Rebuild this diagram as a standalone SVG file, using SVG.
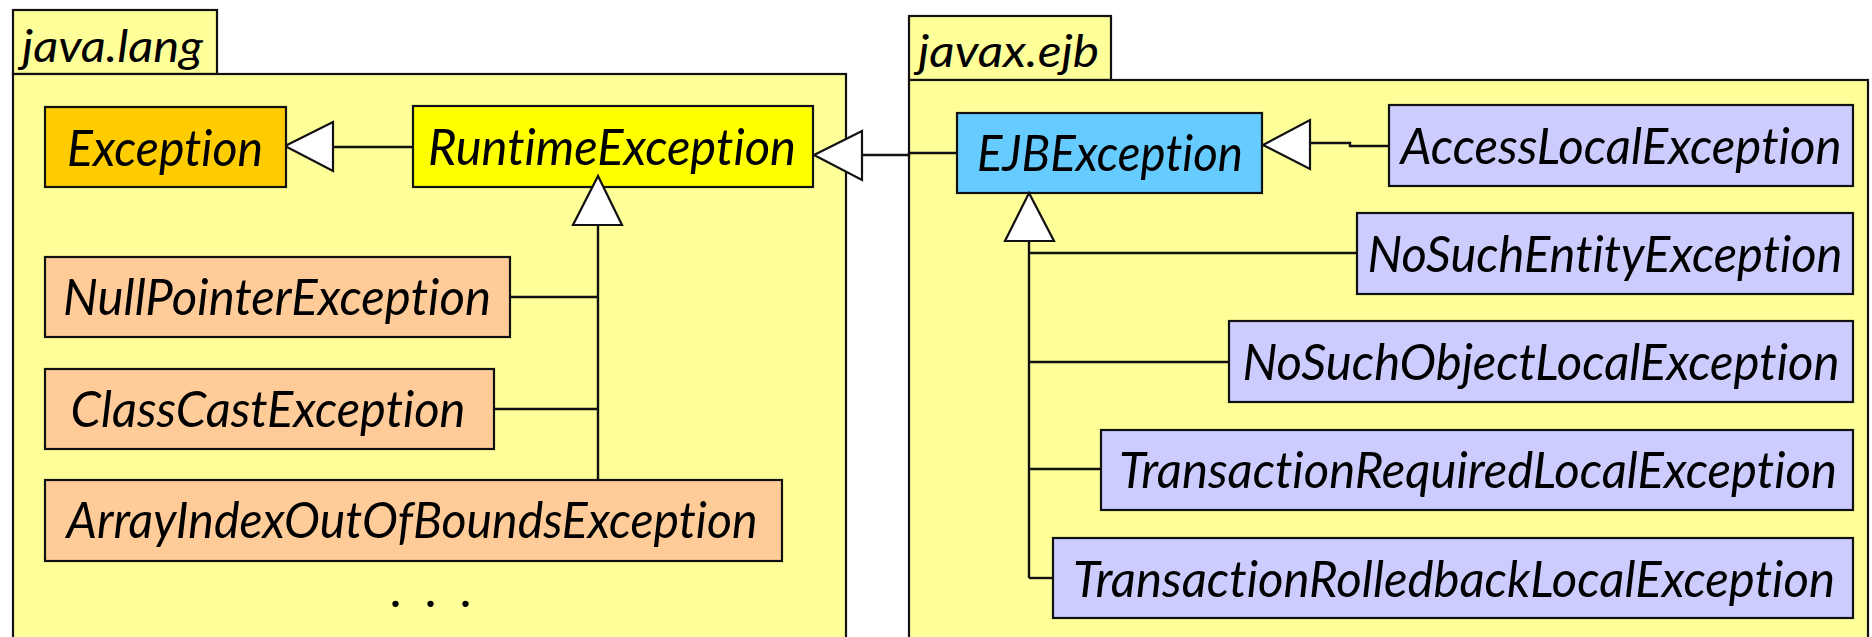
<svg xmlns="http://www.w3.org/2000/svg" width="1872" height="637" viewBox="0 0 1872 637">
  <style>
    .pkg { fill: #FFFF99; stroke: #111; stroke-width: 2.2; }
    .box { stroke: #111; stroke-width: 2.2; }
    .lbl { font-family: Lato, "Open Sans", "DejaVu Sans", sans-serif; font-style: italic; font-size: 51px; fill: #000; text-anchor: middle; font-variant-ligatures: none; }
    .pkgname { font-family: Lato, "Open Sans", "DejaVu Sans", sans-serif; font-style: italic; font-size: 44px; fill: #000; font-variant-ligatures: none; }
    .edge { fill: none; stroke: #111; stroke-width: 2.4; }
    .head { fill: #fff; stroke: #111; stroke-width: 2.2; stroke-linejoin: miter; }
    .orange { fill: #FFCC00; }
    .yellow { fill: #FFFF00; }
    .peach { fill: #FFCC99; }
    .cyan { fill: #66CCFF; }
    .lilac { fill: #CCCCFF; }
  </style>

  <!-- packages -->
  <g id="pkg-java-lang">
    <rect class="pkg" x="13" y="10" width="204" height="64"/>
    <rect class="pkg" x="13" y="74" width="833" height="580"/>
    <text class="pkgname" x="22" y="62" textLength="181" lengthAdjust="spacingAndGlyphs">java.lang</text>
  </g>
  <g id="pkg-javax-ejb">
    <rect class="pkg" x="909" y="16" width="202" height="64"/>
    <rect class="pkg" x="909" y="80" width="959" height="580"/>
    <text class="pkgname" x="918" y="67" textLength="181" lengthAdjust="spacingAndGlyphs">javax.ejb</text>
  </g>

  <!-- inheritance connectors -->
  <g id="connectors">
    <!-- RuntimeException -> Exception -->
    <line class="edge" x1="333" y1="147" x2="413" y2="147"/>
    <polygon class="head" points="285,146 333,122 333,171"/>
    <!-- EJBException -> RuntimeException -->
    <polyline class="edge" points="957,153 909,153 909,155 862,155"/>
    <polygon class="head" points="814,155 862,131 862,180"/>
    <!-- java.lang subclasses -> RuntimeException -->
    <line class="edge" x1="598" y1="225" x2="598" y2="480"/>
    <line class="edge" x1="510" y1="297" x2="598" y2="297"/>
    <line class="edge" x1="494" y1="409" x2="598" y2="409"/>
    <!-- AccessLocalException -> EJBException -->
    <polyline class="edge" points="1310,143 1350,143 1350,146 1389,146"/>
    <polygon class="head" points="1263,145 1310,120 1310,169"/>
    <!-- javax.ejb subclasses -> EJBException -->
    <polyline class="edge" points="1357,253 1029,253"/>
    <line class="edge" x1="1029" y1="241" x2="1029" y2="578"/>
    <line class="edge" x1="1029" y1="362" x2="1229" y2="362"/>
    <line class="edge" x1="1029" y1="469" x2="1101" y2="469"/>
    <line class="edge" x1="1029" y1="578" x2="1053" y2="578"/>
  </g>

  <!-- java.lang classes -->
  <g id="Exception">
    <rect class="box orange" x="45" y="107" width="241" height="80"/>
    <text class="lbl" x="165" y="166" textLength="196" lengthAdjust="spacingAndGlyphs">Exception</text>
  </g>
  <g id="RuntimeException">
    <rect class="box yellow" x="413" y="106" width="400" height="81"/>
    <text class="lbl" x="612" y="165" textLength="368" lengthAdjust="spacingAndGlyphs">RuntimeException</text>
  </g>
  <polygon class="head" points="598,176 573,225 622,225"/>
  <g id="NullPointerException">
    <rect class="box peach" x="45" y="257" width="465" height="80"/>
    <text class="lbl" x="277" y="315" textLength="428" lengthAdjust="spacingAndGlyphs">NullPointerException</text>
  </g>
  <g id="ClassCastException">
    <rect class="box peach" x="45" y="369" width="449" height="80"/>
    <text class="lbl" x="268" y="427" textLength="395" lengthAdjust="spacingAndGlyphs">ClassCastException</text>
  </g>
  <g id="ArrayIndexOutOfBoundsException">
    <rect class="box peach" x="45" y="480" width="737" height="81"/>
    <text class="lbl" x="412" y="538" textLength="691" lengthAdjust="spacingAndGlyphs">ArrayIndexOutOfBoundsException</text>
  </g>
  <text class="lbl" x="432" y="607" font-size="54" textLength="82" lengthAdjust="spacing">. . .</text>

  <!-- javax.ejb classes -->
  <g id="EJBException">
    <rect class="box cyan" x="957" y="113" width="305" height="80"/>
    <text class="lbl" x="1110" y="171" textLength="266" lengthAdjust="spacingAndGlyphs">EJBException</text>
  </g>
  <polygon class="head" points="1029,193 1005,241 1054,241"/>
  <g id="AccessLocalException">
    <rect class="box lilac" x="1389" y="105" width="464" height="81"/>
    <text class="lbl" x="1621" y="164" textLength="441" lengthAdjust="spacingAndGlyphs">AccessLocalException</text>
  </g>
  <g id="NoSuchEntityException">
    <rect class="box lilac" x="1357" y="213" width="496" height="81"/>
    <text class="lbl" x="1605" y="272" textLength="475" lengthAdjust="spacingAndGlyphs">NoSuchEntityException</text>
  </g>
  <g id="NoSuchObjectLocalException">
    <rect class="box lilac" x="1229" y="321" width="624" height="81"/>
    <text class="lbl" x="1541" y="380" textLength="597" lengthAdjust="spacingAndGlyphs">NoSuchObjectLocalException</text>
  </g>
  <g id="TransactionRequiredLocalException">
    <rect class="box lilac" x="1101" y="430" width="752" height="80"/>
    <text class="lbl" x="1478" y="488" textLength="718" lengthAdjust="spacingAndGlyphs">TransactionRequiredLocalException</text>
  </g>
  <g id="TransactionRolledbackLocalException">
    <rect class="box lilac" x="1053" y="538" width="800" height="80"/>
    <text class="lbl" x="1454" y="597" textLength="762" lengthAdjust="spacingAndGlyphs">TransactionRolledbackLocalException</text>
  </g>
</svg>
